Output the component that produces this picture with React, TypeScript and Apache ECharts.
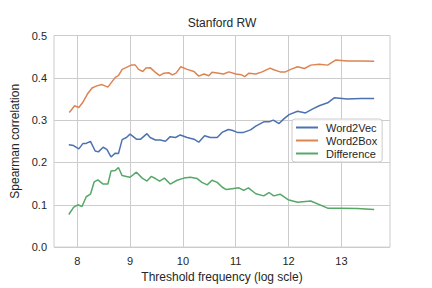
import React, { useEffect, useRef } from "react";
import * as echarts from "echarts";

const w2vX = [7.84, 7.93, 8.03, 8.11, 8.17, 8.25, 8.34, 8.40, 8.49, 8.56, 8.64, 8.72, 8.78, 8.85, 8.93, 9.00, 9.12, 9.20, 9.32, 9.38, 9.48, 9.57, 9.67, 9.76, 9.86, 9.95, 10.08, 10.21, 10.30, 10.41, 10.52, 10.65, 10.74, 10.86, 10.93, 11.03, 11.15, 11.28, 11.38, 11.53, 11.63, 11.71, 11.82, 11.91, 12.01, 12.17, 12.32, 12.45, 12.58, 12.74, 12.87, 13.11, 13.37, 13.62];
const w2vY = [0.242, 0.240, 0.232, 0.245, 0.245, 0.250, 0.227, 0.225, 0.236, 0.231, 0.213, 0.222, 0.221, 0.254, 0.259, 0.267, 0.255, 0.255, 0.268, 0.259, 0.253, 0.253, 0.250, 0.261, 0.259, 0.265, 0.259, 0.255, 0.248, 0.263, 0.259, 0.259, 0.271, 0.278, 0.276, 0.271, 0.271, 0.277, 0.286, 0.296, 0.296, 0.300, 0.292, 0.303, 0.313, 0.321, 0.317, 0.326, 0.334, 0.341, 0.353, 0.350, 0.351, 0.351];

const w2bX = [7.85, 7.95, 8.03, 8.10, 8.20, 8.28, 8.37, 8.47, 8.58, 8.72, 8.78, 8.85, 8.92, 9.02, 9.10, 9.16, 9.24, 9.30, 9.38, 9.48, 9.56, 9.64, 9.73, 9.80, 9.87, 9.96, 10.08, 10.21, 10.30, 10.40, 10.49, 10.55, 10.68, 10.77, 10.87, 11.00, 11.11, 11.17, 11.25, 11.38, 11.50, 11.65, 11.72, 11.84, 11.94, 12.04, 12.17, 12.30, 12.42, 12.58, 12.74, 12.89, 13.11, 13.37, 13.62];
const w2bY = [0.318, 0.334, 0.330, 0.341, 0.363, 0.376, 0.381, 0.384, 0.378, 0.401, 0.405, 0.420, 0.424, 0.430, 0.430, 0.420, 0.415, 0.423, 0.424, 0.413, 0.405, 0.411, 0.412, 0.407, 0.411, 0.426, 0.420, 0.415, 0.404, 0.409, 0.405, 0.413, 0.411, 0.409, 0.414, 0.409, 0.407, 0.403, 0.411, 0.409, 0.414, 0.423, 0.419, 0.414, 0.414, 0.420, 0.426, 0.422, 0.430, 0.432, 0.430, 0.442, 0.440, 0.440, 0.439];

const diffX = [7.84, 7.93, 8.01, 8.09, 8.17, 8.25, 8.32, 8.39, 8.49, 8.58, 8.64, 8.72, 8.78, 8.85, 8.93, 9.00, 9.12, 9.23, 9.32, 9.40, 9.48, 9.56, 9.65, 9.76, 9.89, 10.02, 10.14, 10.27, 10.36, 10.46, 10.55, 10.65, 10.74, 10.82, 10.93, 11.06, 11.15, 11.24, 11.38, 11.53, 11.63, 11.72, 11.84, 11.99, 12.17, 12.42, 12.74, 12.99, 13.30, 13.62];
const diffY = [0.077, 0.094, 0.100, 0.096, 0.119, 0.125, 0.154, 0.159, 0.149, 0.149, 0.180, 0.181, 0.188, 0.169, 0.167, 0.165, 0.177, 0.163, 0.156, 0.167, 0.162, 0.156, 0.163, 0.149, 0.158, 0.163, 0.165, 0.162, 0.153, 0.147, 0.158, 0.153, 0.142, 0.136, 0.138, 0.140, 0.134, 0.140, 0.126, 0.121, 0.129, 0.121, 0.125, 0.112, 0.106, 0.109, 0.092, 0.092, 0.091, 0.089];

const xTicks = [8, 9, 10, 11, 12, 13];
const seriesNames = ["Word2Vec", "Word2Box", "Difference"];
const colors = ["#4c72b0", "#dd8452", "#55a868"];

const pairs = (xs: number[], ys: number[]) => xs.map((x, i) => [x, ys[i]]);

export default function App() {
  const ref = useRef<HTMLDivElement>(null);
  useEffect(() => {
    document.body.style.margin = "0";
    if (!ref.current) return;
    const chart = echarts.init(ref.current, undefined, { renderer: "svg" });
    const font = "'Liberation Sans', Arial, sans-serif";
    const txt = "#262626";
    const data = [pairs(w2vX, w2vY), pairs(w2bX, w2bY), pairs(diffX, diffY)];
    chart.setOption({
      animation: false,
      textStyle: { fontFamily: font },
      title: {
        text: "Stanford RW",
        left: 222,
        top: 17,
        padding: 0,
        textAlign: "center",
        textStyle: { fontSize: 12, fontWeight: "normal", color: txt, fontFamily: font },
      },
      grid: {
        left: 54,
        right: 42,
        top: 35.5,
        bottom: 35.5,
        show: true,
        borderColor: "#cccccc",
        borderWidth: 1,
        containLabel: false,
      },
      legend: {
        orient: "vertical",
        left: 292,
        top: 119,
        padding: [3, 5, 3, 4],
        itemGap: 2,
        itemWidth: 22,
        itemHeight: 2,
        icon: "rect",
        backgroundColor: "rgba(255,255,255,0.8)",
        borderColor: "#cccccc",
        borderWidth: 1,
        borderRadius: 3,
        textStyle: { fontSize: 11, color: txt, fontFamily: font, padding: [0, 0, 0, 3] },
        data: seriesNames,
      },
      xAxis: {
        type: "value",
        min: 7.56,
        max: 13.92,
        name: "Threshold frequency (log scle)",
        nameLocation: "middle",
        nameGap: 20,
        nameTextStyle: { fontSize: 12, color: txt, fontFamily: font },
        axisLine: { show: false },
        axisTick: { show: false, customValues: xTicks },
        axisLabel: { customValues: xTicks, fontSize: 11, color: txt, margin: 8, fontFamily: font },
        splitLine: { show: true, customValues: xTicks, lineStyle: { color: "#cccccc", width: 1 } },
      },
      yAxis: {
        type: "value",
        min: 0,
        max: 0.5,
        interval: 0.1,
        name: "Spearman correlation",
        nameLocation: "middle",
        nameGap: 26,
        nameTextStyle: { fontSize: 12, color: txt, fontFamily: font },
        axisLine: { show: false },
        axisTick: { show: false },
        axisLabel: {
          fontSize: 11,
          color: txt,
          margin: 7,
          fontFamily: font,
          formatter: (v: number) => v.toFixed(1),
        },
        splitLine: { show: true, lineStyle: { color: "#cccccc", width: 1 } },
      },
      series: seriesNames.map((name, i) => ({
        name,
        type: "line",
        data: data[i],
        showSymbol: false,
        symbol: "none",
        color: colors[i],
        lineStyle: { width: 1.5, color: colors[i] },
      })),
    });
    return () => chart.dispose();
  }, []);
  return <div ref={ref} style={{ width: 432, height: 288 }} />;
}
